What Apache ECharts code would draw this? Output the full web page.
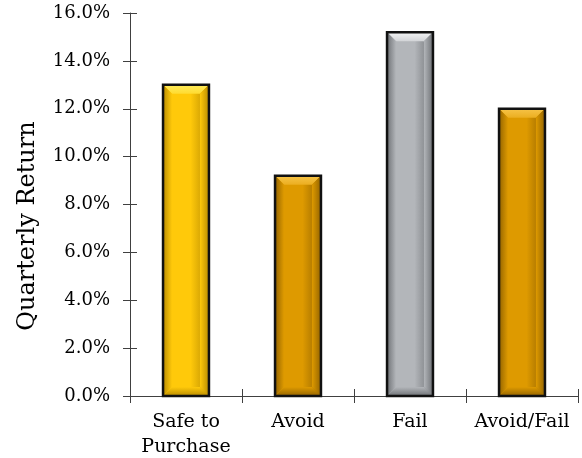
<!DOCTYPE html>
<html>
<head>
<meta charset="utf-8">
<script src="https://cdn.jsdelivr.net/npm/echarts@6/dist/echarts.min.js"></script>
<style>
  html, body { margin: 0; padding: 0; background: #fff; }
  #chart { width: 582px; height: 458px; }
</style>
</head>
<body>
<div id="chart"></div>
<script>
// Quarterly return by screening outcome
const categories = ['Safe to\nPurchase', 'Avoid', 'Fail', 'Avoid/Fail'];
const returns = [13.0, 9.2, 15.2, 12.0];
const yTicks = [0, 2, 4, 6, 8, 10, 12, 14, 16];
const yTitle = 'Quarterly Return';

// Bevelled bar palettes: face, highlight, shadow
const barFace = ['#FFC90A', '#DE9A00', '#B3B6BA', '#DE9A00'];
const barLight = ['#FFEC5C', '#F7C448', '#F4F5F6', '#F7C448'];
const barMid = ['#FFDB30', '#EBAE20', '#D2D4D7', '#EBAE20'];
const barDark = ['#B98C00', '#946400', '#6E7175', '#946400'];

const font = 'DejaVu Serif';
const chart = echarts.init(document.getElementById('chart'), null, { renderer: 'canvas' });

function grad(x2, y2, c0, c1) {
  return new echarts.graphic.LinearGradient(0, 0, x2, y2, [
    { offset: 0, color: c0 }, { offset: 1, color: c1 }]);
}

function renderBar(params, api) {
  const i = api.value(0);
  const top = api.coord([i, api.value(1)]);
  const base = api.coord([i, 0]);
  const bw = api.size([1, 0])[0] * 0.41;
  const x0 = top[0] - bw / 2, x1 = top[0] + bw / 2;
  const y0 = top[1], y1 = base[1];
  const b = 9;
  const face = new echarts.graphic.LinearGradient(0, 0, 1, 0, [
    { offset: 0, color: barFace[i] },
    { offset: 0.6, color: barFace[i] },
    { offset: 1, color: barDark[i] }
  ]);
  return {
    type: 'group',
    children: [
      { type: 'rect', shape: { x: x0, y: y0, width: bw, height: y1 - y0 },
        style: { fill: face } },
      // top facet
      { type: 'polygon', shape: { points: [[x0, y0], [x1, y0], [x1 - b, y0 + b], [x0 + b, y0 + b]] },
        style: { fill: grad(0, 1, barLight[i], barMid[i]) } },
      // left facet
      { type: 'polygon', shape: { points: [[x0, y0], [x0 + b, y0 + b], [x0 + b, y1 - b], [x0, y1]] },
        style: { fill: grad(1, 0, barDark[i], barFace[i]) } },
      // right facet
      { type: 'polygon', shape: { points: [[x1, y0], [x1 - b, y0 + b], [x1 - b, y1 - b], [x1, y1]] },
        style: { fill: grad(1, 0, barFace[i], barDark[i]) } },
      // bottom facet
      { type: 'polygon', shape: { points: [[x0, y1], [x1, y1], [x1 - b, y1 - b], [x0 + b, y1 - b]] },
        style: { fill: grad(0, 1, barFace[i], barDark[i]) } },
      // outline
      { type: 'rect', shape: { x: x0, y: y0, width: bw, height: y1 - y0 },
        style: { fill: null, stroke: '#111', lineWidth: 2.5 } }
    ]
  };
}

const axisLineStyle = { color: '#404040', width: 1 };

chart.setOption({
  animation: false,
  grid: { left: 130, right: 4, top: 13, bottom: 62, containLabel: false, outerBoundsMode: 'none' },
  graphic: [{
    type: 'text',
    x: 28, y: 226,
    rotation: Math.PI / 2,
    style: {
      text: yTitle, fill: '#000', font: '24px "DejaVu Serif"',
      align: 'center', verticalAlign: 'middle'
    }
  }],
  xAxis: [{
    type: 'category',
    data: categories,
    boundaryGap: true,
    axisLine: { show: true, lineStyle: axisLineStyle },
    axisTick: { show: true, length: 7, alignWithLabel: false, lineStyle: axisLineStyle },
    axisLabel: { color: '#000', fontFamily: font, fontSize: 19, lineHeight: 25, margin: 14, interval: 0 }
  }, {
    type: 'category',
    data: categories,
    position: 'bottom',
    axisLine: { show: false },
    axisTick: { show: true, inside: true, length: 7, lineStyle: axisLineStyle },
    axisLabel: { show: false }
  }],
  yAxis: [{
    type: 'value',
    min: yTicks[0],
    max: yTicks[yTicks.length - 1],
    interval: 2,
    axisLine: { show: true, lineStyle: axisLineStyle },
    axisTick: { show: true, length: 7, lineStyle: axisLineStyle },
    splitLine: { show: false },
    axisLabel: { color: '#000', fontFamily: font, fontSize: 18, margin: 20,
      formatter: v => v.toFixed(1) + '%' }
  }, {
    type: 'value',
    min: yTicks[0],
    max: yTicks[yTicks.length - 1],
    interval: 2,
    position: 'left',
    axisLine: { show: false },
    axisTick: { show: true, inside: true, length: 7, lineStyle: axisLineStyle },
    splitLine: { show: false },
    axisLabel: { show: false }
  }],
  series: [{
    type: 'custom',
    renderItem: renderBar,
    data: returns.map((v, i) => [i, v]),
    encode: { x: 0, y: 1 },
    clip: false
  }]
});
</script>
</body>
</html>
